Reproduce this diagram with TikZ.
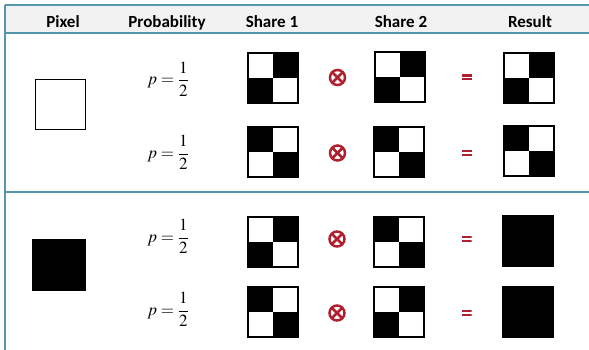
\documentclass[tikz,border=0pt]{standalone}
\usepackage{mathptmx}
\usepackage{fontspec}
\setmainfont{Liberation Serif}
\newfontfamily\hdrfont{Carlito}
\definecolor{rulecol}{RGB}{84,150,170}
\definecolor{hdrbg}{RGB}{242,242,242}
\definecolor{opred}{RGB}{176,32,48}
\newcommand{\halfprob}{$\displaystyle p=\frac{1}{2}$}
\begin{document}
\begin{tikzpicture}[x=1pt,y=-1pt,
  rule/.style={draw=rulecol, line width=1.6pt},
  hdr/.style={font=\hdrfont\bfseries\fontsize{17}{19}\selectfont, text=black, inner sep=0pt, anchor=base},
  prob/.style={font=\fontsize{17}{20}\selectfont, inner sep=0pt},
  tile/.style={draw=black, line width=2pt, minimum size=50pt, inner sep=0pt, fill=white},
  tileA/.style={tile, path picture={
      \fill[black] (path picture bounding box.center) rectangle (path picture bounding box.north east);
      \fill[black] (path picture bounding box.center) rectangle (path picture bounding box.south west);}},
  tileB/.style={tile, path picture={
      \fill[black] (path picture bounding box.center) rectangle (path picture bounding box.north west);
      \fill[black] (path picture bounding box.center) rectangle (path picture bounding box.south east);}},
  tileK/.style={tile, fill=black},
  xorop/.style={circle, draw=opred, line width=2.5pt, minimum size=15pt, inner sep=0pt,
      path picture={
      \draw[opred, line width=2.5pt] (path picture bounding box.north west) -- (path picture bounding box.south east);
      \draw[opred, line width=2.5pt] (path picture bounding box.north east) -- (path picture bounding box.south west);}},
  eqop/.style={minimum width=10pt, minimum height=6pt, inner sep=0pt,
      path picture={
      \fill[opred] (path picture bounding box.north west) rectangle ([yshift=-2.2pt]path picture bounding box.north east);
      \fill[opred] (path picture bounding box.south west) rectangle ([yshift=2.2pt]path picture bounding box.south east);}},
]
\useasboundingbox (0,0) rectangle (589,350);

% header band and table rules
\fill[hdrbg] (5,5) rectangle (589,33);
\draw[rule] (5,5) -- (589,5);
\draw[rule] (5,33) -- (589,33);
\draw[rule] (5,192) -- (589,192);
\draw[rule] (5,5) -- (5,350);

% column headings
\node[hdr] (hPixel) at (63,28) {Pixel};
\node[hdr] (hProb) at (167,28) {Probability};
\node[hdr] (hS1) at (272,28) {Share 1};
\node[hdr] (hS2) at (401,28) {Share 2};
\node[hdr] (hRes) at (530,28) {Result};

% original pixels
\node[draw=black, line width=0.8pt, fill=white, minimum size=50pt, inner sep=0pt] (pixW) at (60,104.5) {};
\node[fill=black, minimum width=54pt, minimum height=52pt, inner sep=0pt] (pixB) at (59,265) {};

% probabilities
\node[prob] (p1) at (168,79) {\halfprob};
\node[prob] (p2) at (168,152.5) {\halfprob};
\node[prob] (p3) at (168,236.5) {\halfprob};
\node[prob] (p4) at (168,309.5) {\halfprob};

% white pixel, first split
\node[tileA] (s1a) at (273,78.5) {};
\node[xorop] (x1) at (337.5,77.5) {};
\node[tileA] (s2a) at (400,77) {};
\node[eqop] (e1) at (467,77.5) {};
\node[tileA] (ra) at (529,78.5) {};

% white pixel, second split
\node[tileB] (s1b) at (273,152) {};
\node[xorop] (x2) at (337.5,153) {};
\node[tileB] (s2b) at (399,152) {};
\node[eqop] (e2) at (467,153) {};
\node[tileB] (rb) at (529,151) {};

% black pixel, first split
\node[tileA] (s1c) at (273,242) {};
\node[xorop] (x3) at (337,239) {};
\node[tileB] (s2c) at (398.5,242) {};
\node[eqop] (e3) at (466.5,239) {};
\node[tileK] (rc) at (528,241) {};

% black pixel, second split
\node[tileB] (s1d) at (273,311.5) {};
\node[xorop] (x4) at (337,313) {};
\node[tileA] (s2d) at (398.5,312) {};
\node[eqop] (e4) at (466.5,313) {};
\node[tileK] (rd) at (528,312) {};
\end{tikzpicture}
\end{document}
